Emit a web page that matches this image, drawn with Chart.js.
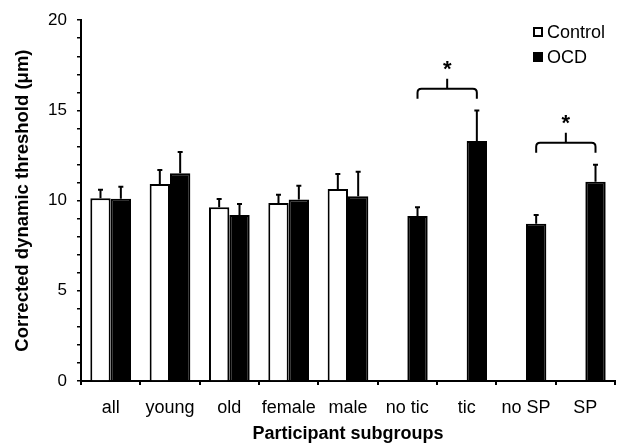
<!DOCTYPE html>
<html>
<head>
<meta charset="utf-8">
<script src="https://cdn.jsdelivr.net/npm/chart.js@4.4.1/dist/chart.umd.min.js"></script>
<style>
  html, body { margin: 0; padding: 0; background: #fff; }
  #chart { display: block; }
</style>
</head>
<body>
<canvas id="chart" width="620" height="445"></canvas>
<script>
// Values (mean and upper error bar)
const categories = ['all', 'young', 'old', 'female', 'male', 'no tic', 'tic', 'no SP', 'SP'];
const controlMeans = [10.13, 10.92, 9.63, 9.87, 10.64, null, null, null, null];
const controlErrors = [0.47, 0.77, 0.46, 0.46, 0.83, null, null, null, null];
const ocdMeans = [10.10, 11.51, 9.20, 10.06, 10.24, 9.15, 13.30, 8.71, 11.05];
const ocdErrors = [0.67, 1.19, 0.61, 0.77, 1.36, 0.48, 1.70, 0.49, 0.94];
const yTickLabels = [0, 5, 10, 15, 20];

// Significance brackets between OCD bars
const bracketFrom = ['no tic', 'no SP'];
const bracketTo = ['tic', 'SP'];
const bracketLevel = [16.2, 13.2];
const bracketMark = ['*', '*'];

const FONT = "'Liberation Sans', Arial, Helvetica, sans-serif";
Chart.defaults.font.family = FONT;
Chart.defaults.color = '#000';

// upper-only error bars with a small cap
const errorBarPlugin = {
  id: 'errorBars',
  afterDatasetsDraw(chart, args, opts) {
    const { ctx } = chart;
    const yScale = chart.scales.y;
    ctx.save();
    ctx.strokeStyle = opts.color;
    ctx.lineWidth = opts.width;
    chart.data.datasets.forEach((ds, i) => {
      const meta = chart.getDatasetMeta(i);
      meta.data.forEach((bar, j) => {
        const v = ds.data[j];
        const e = ds.errors[j];
        if (v == null || e == null) return;
        const yTop = yScale.getPixelForValue(v + e);
        ctx.beginPath();
        ctx.moveTo(bar.x, bar.y);
        ctx.lineTo(bar.x, yTop);
        ctx.moveTo(bar.x - opts.cap, yTop);
        ctx.lineTo(bar.x + opts.cap, yTop);
        ctx.stroke();
      });
    });
    ctx.restore();
  }
};

const bracketPlugin = {
  id: 'brackets',
  afterDatasetsDraw(chart, args, opts) {
    const { ctx } = chart;
    const meta = chart.getDatasetMeta(1); // OCD bars
    const yScale = chart.scales.y;
    const drop = opts.drop;
    const r = 4;
    ctx.save();
    ctx.strokeStyle = '#000';
    ctx.fillStyle = '#000';
    ctx.lineWidth = 2;
    bracketFrom.forEach((from, k) => {
      const x0 = meta.data[categories.indexOf(from)].x;
      const x1 = meta.data[categories.indexOf(bracketTo[k])].x;
      const xm = (x0 + x1) / 2;
      const yl = yScale.getPixelForValue(bracketLevel[k]);
      ctx.beginPath();
      ctx.moveTo(x0, yl + drop);
      ctx.lineTo(x0, yl + r);
      ctx.quadraticCurveTo(x0, yl, x0 + r, yl);
      ctx.lineTo(x1 - r, yl);
      ctx.quadraticCurveTo(x1, yl, x1, yl + r);
      ctx.lineTo(x1, yl + drop);
      ctx.moveTo(xm, yl);
      ctx.lineTo(xm, yl - drop);
      ctx.stroke();
      ctx.font = 'bold 22px ' + FONT;
      ctx.textAlign = 'center';
      ctx.textBaseline = 'alphabetic';
      ctx.fillText(bracketMark[k], xm, yl - drop - 3);
    });
    ctx.restore();
  }
};

// legend drawn inside the plot, top right
const boxLegendPlugin = {
  id: 'boxLegend',
  afterDraw(chart, args, opts) {
    const { ctx } = chart;
    ctx.save();
    ctx.font = '18px ' + FONT;
    ctx.textBaseline = 'middle';
    ctx.textAlign = 'left';
    chart.data.datasets.forEach((ds, i) => {
      const cy = opts.top + i * opts.rowGap;
      const s = opts.box;
      ctx.fillStyle = ds.backgroundColor;
      ctx.fillRect(opts.left, cy - s / 2, s, s);
      ctx.strokeStyle = ds.borderColor;
      ctx.lineWidth = 2;
      ctx.strokeRect(opts.left + 1, cy - s / 2 + 1, s - 2, s - 2);
      ctx.fillStyle = '#000';
      ctx.fillText(ds.label, opts.left + s + 4, cy + 1);
    });
    ctx.restore();
  }
};

new Chart(document.getElementById('chart'), {
  type: 'bar',
  data: {
    labels: categories,
    datasets: [
      {
        label: 'Control',
        data: controlMeans,
        errors: controlErrors,
        backgroundColor: '#ffffff',
        borderColor: '#000000',
        borderWidth: 2
      },
      {
        label: 'OCD',
        data: ocdMeans,
        errors: ocdErrors,
        backgroundColor: '#000000',
        borderColor: '#000000',
        borderWidth: 2
      }
    ]
  },
  options: {
    responsive: false,
    animation: false,
    barPercentage: 1,
    categoryPercentage: 0.686,
    layout: { padding: { top: 19, right: 5, bottom: 0, left: 0 } },
    plugins: {
      legend: { display: false },
      tooltip: { enabled: false },
      errorBars: { color: '#000', width: 2, cap: 2.5 },
      brackets: { drop: 10 },
      boxLegend: { left: 533, top: 32, rowGap: 25, box: 10 }
    },
    scales: {
      x: {
        offset: true,
        grid: {
          offset: true,
          drawOnChartArea: false,
          drawTicks: true,
          tickLength: 4,
          color: '#000',
          lineWidth: 2
        },
        border: { display: true, color: '#000', width: 2 },
        ticks: { font: { size: 18 }, padding: 12, maxRotation: 0, autoSkip: false },
        title: {
          display: true,
          text: 'Participant subgroups',
          font: { size: 18, weight: 'bold' },
          padding: { top: 0, bottom: 0 }
        },
        afterFit(scale) { scale.height = 64; }
      },
      y: {
        min: 0,
        max: 20,
        grid: {
          drawOnChartArea: false,
          drawTicks: true,
          tickLength: 4,
          color: '#000',
          lineWidth: 1.5
        },
        border: { display: true, color: '#000', width: 2 },
        ticks: {
          stepSize: 1,
          autoSkip: false,
          maxTicksLimit: 25,
          font: { size: 17 },
          padding: 10,
          callback: (value) => (yTickLabels.includes(value) ? value : '')
        },
        title: {
          display: true,
          text: 'Corrected dynamic threshold (\u03bcm)',
          font: { size: 18.5, weight: 'bold' },
          padding: { top: 12, bottom: 0 }
        },
        afterFit(scale) { scale.width = 81; }
      }
    }
  },
  plugins: [errorBarPlugin, bracketPlugin, boxLegendPlugin]
});
</script>
</body>
</html>
